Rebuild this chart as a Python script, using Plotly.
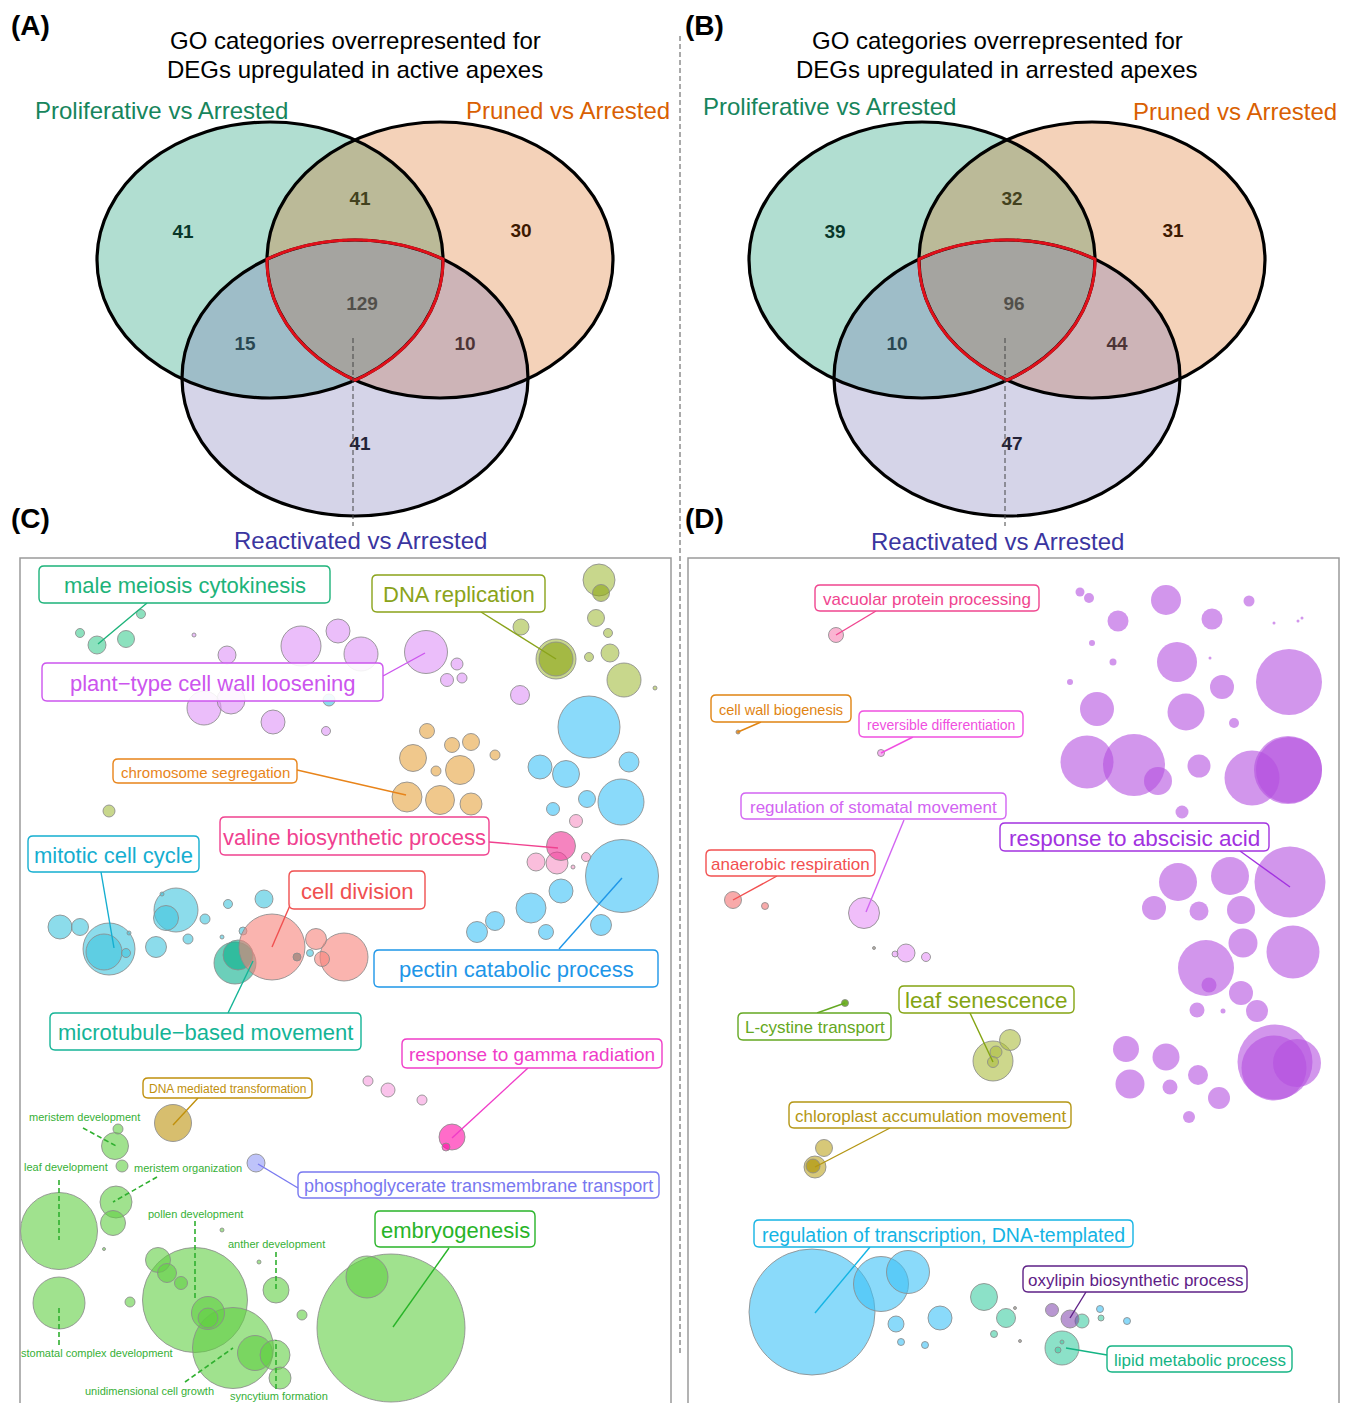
import numpy as np
import plotly.graph_objects as go

W, H = 1351, 1403
OFF = 8  # page body margin around the figure
FONT = "Liberation Sans, Arial, sans-serif"

# ---------------- Venn data ----------------
venn_sets = ["Proliferative vs Arrested", "Pruned vs Arrested", "Reactivated vs Arrested"]
venn_regions = ["P only", "P&Pr", "Pr only", "all", "P&R", "Pr&R", "R only"]
counts_A = [41, 41, 30, 129, 15, 10, 41]
counts_B = [39, 32, 31, 96, 10, 44, 47]

# ---------------- Panel C bubbles (semantic space) ----------------
c_x = [80, 97, 126, 141,
       194, 227, 301, 338, 361, 426, 457, 447, 462, 204, 231, 273, 326, 520,
       599, 601, 596, 521, 608, 556, 556, 610, 589, 624, 655, 109,
       589, 540, 566, 629, 621, 587, 553, 622, 561, 531, 495, 477, 546, 601,
       427, 452, 471, 495, 413, 436, 460, 407, 440, 471,
       576, 557, 536, 586, 573, 561,
       60, 80, 109, 104, 126, 129, 176, 166, 156, 188, 205, 228, 264, 222, 162, 243, 329, 310,
       235, 238,
       272, 316, 344, 322, 297,
       452, 446, 368, 388, 422,
       173, 256,
       118, 115, 122, 116, 113, 59, 59, 104, 130, 158, 167, 181, 195, 208, 208, 233, 255, 275,
       280, 276, 302, 222, 259, 391, 367]
c_y = [633, 645, 639, 614,
       635, 655, 646, 631, 654, 652, 664, 680, 678, 708, 700, 722, 731, 695,
       580, 593, 618, 627, 633, 659, 659, 653, 657, 680, 688, 811,
       727, 767, 774, 762, 802, 799, 809, 876, 891, 908, 921, 932, 932, 925,
       731, 745, 742, 755, 758, 771, 770, 797, 800, 804,
       821, 863, 862, 857, 867, 846,
       927, 927, 949, 952, 953, 933, 910, 918, 947, 939, 919, 904, 899, 937, 894, 931, 700, 953,
       963, 955,
       947, 939, 957, 959, 957,
       1137, 1147, 1081, 1090, 1100,
       1123, 1163,
       1129, 1146, 1166, 1202, 1223, 1231, 1303, 1249, 1302, 1260, 1273, 1283, 1300, 1313, 1318, 1348, 1353, 1355,
       1378, 1290, 1315, 1230, 1262, 1328, 1277]
c_size = [9, 18, 17, 9,
          4, 18, 40, 24, 34, 43, 12, 13, 10, 34, 28, 24, 9, 19,
          32, 17, 17, 16, 9, 40, 34, 18, 9, 34, 4, 12,
          62, 24, 27, 20, 46, 17, 13, 73, 24, 30, 19, 21, 15, 21,
          15, 15, 17, 10, 27, 10, 29, 30, 29, 22,
          13, 22, 18, 9, 4, 29,
          24, 17, 52, 36, 9, 4, 44, 25, 21, 10, 10, 9, 18, 4, 4, 8, 12, 7,
          42, 30,
          66, 21, 48, 15, 8,
          26, 8, 10, 14, 10,
          37, 18,
          10, 27, 12, 32, 25, 77, 52, 3, 10, 25, 19, 13, 105, 33, 20, 81, 35, 30,
          22, 26, 10, 4, 4, 148, 42]
c_group = (["mei"] * 4 + ["wal"] * 14 +
           ["dna", "dnad", "dna", "dna", "dna", "dna", "dnad", "dna", "dna", "dna", "dna", "dna"] +
           ["blu"] * 14 + ["chr"] * 10 + ["val"] * 5 + ["vald"] +
           ["mit"] * 18 + ["mic"] * 2 + ["div"] * 4 + ["gry"] +
           ["gam", "gam", "gaml", "gaml", "gaml"] + ["dmt", "pgt"] + ["grn"] * 25)

# ---------------- Panel D bubbles (semantic space) ----------------
d_x = [1080, 1089, 1166, 1249, 1118, 1212, 1092, 1113, 1177, 1210, 1274, 1298, 1302, 1070, 1222, 1289,
       1097, 1186, 1234, 1087, 1134, 1158, 1199, 1252, 1288, 1289, 1182, 1178, 1230, 1290, 1154, 1199,
       1241, 1243, 1293, 1206, 1209, 1241, 1197, 1223, 1257, 1126, 1166, 1130, 1170, 1198, 1219, 1189,
       1275, 1297, 1274,
       836, 738, 881, 733, 765, 864, 906, 895, 926, 874, 845,
       993, 1010, 996, 993, 824, 815, 813,
       812, 881, 908, 896, 940, 901, 925, 1127, 1100,
       984, 1006, 994, 1082, 1101, 1062, 1058, 1062,
       1052, 1070, 1015, 1020]
d_y = [592, 598, 600, 601, 621, 619, 643, 662, 662, 658, 623, 621, 618, 682, 687, 682,
       709, 712, 723, 762, 765, 781, 766, 778, 770, 770, 812, 882, 876, 882, 908, 911,
       910, 943, 952, 968, 985, 993, 1010, 1011, 1011, 1049, 1057, 1084, 1087, 1075, 1098, 1117,
       1062, 1063, 1068,
       635, 732, 753, 900, 906, 913, 953, 954, 957, 948, 1003,
       1061, 1040, 1052, 1062, 1148, 1167, 1166,
       1312, 1284, 1272, 1324, 1318, 1342, 1345, 1321, 1309,
       1297, 1318, 1334, 1321, 1318, 1348, 1350, 1342,
       1310, 1319, 1308, 1341]
d_size = [9, 10, 30, 11, 21, 21, 6, 7, 40, 3, 3, 3, 3, 6, 24, 66,
          34, 37, 10, 53, 62, 28, 23, 55, 68, 66, 13, 38, 38, 71, 24, 19,
          28, 29, 53, 56, 15, 24, 15, 5, 22, 26, 27, 29, 15, 20, 22, 12,
          75, 48, 65,
          15, 4, 7, 17, 7, 31, 18, 6, 9, 3, 7,
          40, 21, 12, 11, 17, 22, 14,
          126, 55, 43, 16, 24, 7, 7, 7, 7,
          27, 19, 7, 14, 6, 34, 6, 4,
          13, 18, 3, 3]
d_group = (["pur"] * 51 +
           ["vpk", "orn", "pkm", "sal", "sal", "vio", "vio", "vio", "vio", "gry", "lgr"] +
           ["oli"] * 4 + ["gld", "gld", "gldd"] +
           ["blu"] * 9 + ["tea"] * 8 + ["oxy", "oxy", "gry", "gry"])

# ---------------- styles ----------------
A = 0.6
GROUP_FILL = {
    "mei": (63, 205, 147, A), "wal": (222, 147, 247, A), "dna": (163, 188, 63, A),
    "dnad": (140, 165, 20, A), "blu": (60, 193, 247, A), "chr": (230, 163, 63, A),
    "val": (247, 147, 197, A), "vald": (238, 50, 148, A), "mit": (63, 197, 222, A),
    "mic": (10, 175, 140, A), "div": (247, 130, 122, A), "gry": (130, 120, 110, A),
    "gam": (255, 10, 165, A), "gaml": (247, 155, 222, A), "dmt": (188, 147, 13, A),
    "pgt": (147, 155, 247, A), "grn": (97, 207, 67, A),
    "pur": (180, 80, 223, A), "vpk": (247, 130, 180, A), "orn": (225, 130, 20, 0.85),
    "pkm": (245, 120, 235, A), "sal": (243, 113, 113, A), "vio": (230, 147, 247, A),
    "lgr": (100, 170, 20, 0.9), "oli": (172, 188, 63, A), "gld": (188, 163, 30, A),
    "gldd": (175, 150, 10, 0.7), "tea": (63, 205, 163, A), "oxy": (113, 47, 163, 0.5),
}
NO_OUTLINE = {"pur"}

fig = go.Figure()

def add_bubbles(xs, ys, ss, gs, xa, ya):
    xs, ys, ss = np.array(xs), np.array(ys), np.array(ss)
    gs = np.array(gs)
    for g in dict.fromkeys(gs):
        m = gs == g
        order = np.argsort(-ss[m])
        r, gg, b, a = GROUP_FILL[g]
        fig.add_trace(go.Scatter(
            x=xs[m][order], y=ys[m][order], mode="markers", xaxis=xa, yaxis=ya,
            marker=dict(size=ss[m][order], sizemode="diameter", opacity=1,
                        color=f"rgba({r},{gg},{b},{a})",
                        line=dict(color="rgba(140,140,140,0.85)", width=0 if g in NO_OUTLINE else 1)),
            hoverinfo="skip", showlegend=False))

add_bubbles(c_x, c_y, c_size, c_group, "x2", "y2")
add_bubbles(d_x, d_y, d_size, d_group, "x3", "y3")

# ---------------- Venn geometry (page units) ----------------
RX, RY = 173, 138
def venn_ellipses(x0):
    return [(x0 - 85, 260), (x0 + 85, 260), (x0, 378)]

venn_panels = [(355, counts_A), (1007, counts_B)]
region_offsets = [(-172, -72), (5, -105), (166, -73), (7, 0), (-110, 40), (110, 40), (5, 140)]

fills = ["rgba(27,158,119,0.34)", "rgba(217,95,2,0.28)", "rgba(117,112,179,0.30)"]
shapes = []

def triple_path(ells, c):
    pts = []
    for t in np.linspace(0, 2 * np.pi, 721):
        ct, st = np.cos(t), np.sin(t)
        rmin = 1e9
        for (ex, ey) in ells:
            px, py = c[0] - ex, c[1] - ey
            a = (ct / RX) ** 2 + (st / RY) ** 2
            b = 2 * (px * ct / RX ** 2 + py * st / RY ** 2)
            cc = (px / RX) ** 2 + (py / RY) ** 2 - 1
            r = (-b + np.sqrt(b * b - 4 * a * cc)) / (2 * a)
            rmin = min(rmin, r)
        pts.append((c[0] + rmin * ct, c[1] + rmin * st))
    return "M " + " L ".join(f"{x:.2f},{y:.2f}" for x, y in pts) + " Z"

for cx, counts in venn_panels:
    ells = venn_ellipses(cx)
    for (ex, ey), f in zip(ells, fills):
        shapes.append(dict(type="circle", xref="x", yref="y", x0=ex - RX, x1=ex + RX,
                           y0=ey - RY, y1=ey + RY, fillcolor=f, line=dict(width=0), layer="above"))
    for (ex, ey) in ells:
        shapes.append(dict(type="circle", xref="x", yref="y", x0=ex - RX, x1=ex + RX,
                           y0=ey - RY, y1=ey + RY, line=dict(color="black", width=3.2), layer="above"))
    shapes.append(dict(type="path", xref="x", yref="y", path=triple_path(ells, (cx, 310)),
                       line=dict(color="#e0101a", width=3), layer="above"))
    shapes.append(dict(type="line", xref="x", yref="y", x0=cx - 2, x1=cx - 2, y0=338, y1=526,
                       line=dict(color="#444", width=1, dash="5px,3px"), layer="above"))
    fig.add_trace(go.Scatter(
        x=[cx + dx for dx, dy in region_offsets], y=[305 + dy for dx, dy in region_offsets],
        text=[str(v) for v in counts], mode="text", xaxis="x", yaxis="y",
        textfont=dict(family=FONT, size=19, color="black", weight="bold"),
        hoverinfo="skip", showlegend=False))

# page divider
shapes.append(dict(type="line", xref="x", yref="y", x0=680, x1=680, y0=36, y1=1356,
                   line=dict(color="#555", width=1, dash="5px,3px"), layer="above"))

# panel frames
for xa, ya in (("x2", "y2"), ("x3", "y3")):
    shapes.append(dict(type="rect", xref=f"{xa} domain", yref=f"{ya} domain", x0=0, x1=1,
                       y0=-0.02, y1=1, line=dict(color="#9a9a9a", width=1.5), layer="above"))

annotations = []
def page_text(x, y, txt, size, color="black", bold=False, xanchor="center"):
    annotations.append(dict(xref="x", yref="y", x=x, y=y, text=txt, showarrow=False,
                            xanchor=xanchor, yanchor="middle",
                            font=dict(family=FONT, size=size, color=color,
                                      weight="bold" if bold else "normal")))

page_text(9, 25, "(A)", 28, bold=True, xanchor="left")
page_text(683, 25, "(B)", 28, bold=True, xanchor="left")
page_text(9, 518, "(C)", 28, bold=True, xanchor="left")
page_text(683, 518, "(D)", 28, bold=True, xanchor="left")
page_text(355, 40, "GO categories overrepresented for", 24)
page_text(355, 69, "DEGs upregulated in active apexes", 24)
page_text(997, 40, "GO categories overrepresented for", 24)
page_text(997, 69, "DEGs upregulated in arrested apexes", 24)
GREEN_T, ORANGE_T, PURPLE_T = "#17855c", "#d95f02", "#3a35a0"
page_text(161, 110, venn_sets[0], 24, GREEN_T)
page_text(672, 110, venn_sets[1], 24, ORANGE_T, xanchor="right")
page_text(360, 540, venn_sets[2], 24, PURPLE_T)
page_text(829, 106, venn_sets[0], 24, GREEN_T)
page_text(1235, 111, venn_sets[1], 24, ORANGE_T)
page_text(997, 541, venn_sets[2], 24, PURPLE_T)

# ---------------- bubble labels ----------------
def rrect(x0, x1, y0, y1, r=5):
    return (f"M {x0+r},{y0} L {x1-r},{y0} Q {x1},{y0} {x1},{y0+r} L {x1},{y1-r} "
            f"Q {x1},{y1} {x1-r},{y1} L {x0+r},{y1} Q {x0},{y1} {x0},{y1-r} "
            f"L {x0},{y0+r} Q {x0},{y0} {x0+r},{y0} Z")

boxed_C = [
    ("male meiosis cytokinesis", (39, 330, 566, 603), "#1db37a", 22, (147, 603, 98, 644)),
    ("DNA replication", (372, 545, 575, 612), "#8aa31a", 22, (481, 612, 556, 659)),
    ("plant\u2212type cell wall loosening", (42, 383, 663, 701), "#cc55ee", 22, (383, 676, 425, 653)),
    ("chromosome segregation", (113, 297, 759, 783), "#e8841a", 15, (297, 770, 406, 795)),
    ("valine biosynthetic process", (220, 489, 817, 855), "#f0418f", 22, (489, 842, 558, 848)),
    ("mitotic cell cycle", (28, 199, 836, 872), "#15aed0", 22, (101, 872, 114, 948)),
    ("cell division", (289, 425, 871, 909), "#f05050", 22, (291, 903, 272, 947)),
    ("pectin catabolic process", (374, 658, 950, 987), "#1e96e8", 22, (559, 949, 622, 878)),
    ("microtubule\u2212based movement", (50, 361, 1013, 1050), "#14b496", 22, (228, 1013, 253, 961)),
    ("response to gamma radiation", (402, 662, 1039, 1068), "#f03cc8", 19, (528, 1068, 452, 1138)),
    ("DNA mediated transformation", (143, 312, 1078, 1098), "#c0900c", 12, (198, 1098, 173, 1125)),
    ("phosphoglycerate transmembrane transport", (298, 659, 1172, 1198), "#7878f0", 18, (298, 1188, 258, 1164)),
    ("embryogenesis", (375, 535, 1211, 1247), "#28b428", 22, (449, 1248, 393, 1327)),
]
plain_C = [
    ("meristem development", (84, 1117), (83, 1128, 118, 1147)),
    ("leaf development", (66, 1167), (59, 1180, 59, 1240)),
    ("meristem organization", (188, 1168), (157, 1177, 113, 1202)),
    ("pollen development", (195, 1214), (195, 1221, 195, 1300)),
    ("anther development", (276, 1244), (276, 1252, 276, 1290)),
    ("stomatal complex development", (97, 1353), (59, 1345, 59, 1306)),
    ("unidimensional cell growth", (149, 1391), (185, 1382, 233, 1348)),
    ("syncytium formation", (279, 1396), (276, 1389, 276, 1340)),
]
boxed_D = [
    ("vacuolar protein processing", (815, 1039, 585, 611), "#f0458f", 17, (876, 611, 836, 635)),
    ("cell wall biogenesis", (711, 851, 695, 722), "#e08412", 14.5, (761, 722, 738, 732)),
    ("reversible differentiation", (859, 1023, 711, 737), "#f050e0", 14, (913, 737, 881, 753)),
    ("regulation of stomatal movement", (741, 1006, 793, 819), "#d264f2", 17, (904, 820, 866, 912)),
    ("anaerobic respiration", (706, 875, 850, 876), "#f25050", 17, (777, 876, 733, 900)),
    ("response to abscisic acid", (1000, 1269, 823, 851), "#a232e0", 22.5, (1240, 851, 1290, 887)),
    ("L-cystine transport", (738, 891, 1013, 1040), "#64a822", 17, (817, 1013, 845, 1003)),
    ("leaf senescence", (899, 1074, 986, 1013), "#84a412", 22.5, (970, 1013, 993, 1062)),
    ("chloroplast accumulation movement", (789, 1071, 1102, 1128), "#b49614", 17, (890, 1128, 815, 1167)),
    ("regulation of transcription, DNA-templated", (754, 1133, 1220, 1247), "#14b4e4", 19.5, (870, 1247, 815, 1313)),
    ("oxylipin biosynthetic process", (1023, 1247, 1266, 1292), "#5e2086", 17, (1086, 1292, 1070, 1318)),
    ("lipid metabolic process", (1107, 1292, 1346, 1372), "#14b484", 17, (1107, 1355, 1066, 1348)),
]

def add_boxed(items, xa, ya):
    for txt, (x0, x1, y0, y1), col, fs, (lx0, ly0, lx1, ly1) in items:
        shapes.append(dict(type="line", xref=xa, yref=ya, x0=lx0, y0=ly0, x1=lx1, y1=ly1,
                           line=dict(color=col, width=1.4), layer="above"))
        shapes.append(dict(type="path", xref=xa, yref=ya, path=rrect(x0, x1, y0, y1),
                           fillcolor="rgba(255,255,255,0.88)", line=dict(color=col, width=1.4),
                           layer="above"))
        annotations.append(dict(xref=xa, yref=ya, x=(x0 + x1) / 2, y=(y0 + y1) / 2 + 1, text=txt,
                                showarrow=False, xanchor="center", yanchor="middle",
                                font=dict(family=FONT, size=fs, color=col)))

add_boxed(boxed_C, "x2", "y2")
add_boxed(boxed_D, "x3", "y3")
for txt, (tx, ty), (lx0, ly0, lx1, ly1) in plain_C:
    shapes.append(dict(type="line", xref="x2", yref="y2", x0=lx0, y0=ly0, x1=lx1, y1=ly1,
                       line=dict(color="#30b030", width=1.6, dash="5px,3px"), layer="above"))
    annotations.append(dict(xref="x2", yref="y2", x=tx, y=ty, text=txt, showarrow=False,
                            xanchor="center", yanchor="middle",
                            font=dict(family=FONT, size=11, color="#36b036")))

hidden = dict(visible=False, showgrid=False, zeroline=False, fixedrange=True)
fig.update_layout(
    width=W, height=H, margin=dict(l=0, r=0, t=0, b=0),
    paper_bgcolor="white", plot_bgcolor="rgba(0,0,0,0)",
    xaxis=dict(domain=[0, 1], range=[OFF, W + OFF], **hidden),
    yaxis=dict(domain=[0, 1], range=[H + OFF, OFF], **hidden),
    xaxis2=dict(domain=[(20 - OFF) / W, (671 - OFF) / W], range=[20, 671], **hidden),
    yaxis2=dict(domain=[OFF / H, (H - 558 + OFF) / H], range=[1403, 558], **hidden),
    xaxis3=dict(domain=[(688 - OFF) / W, (1339 - OFF) / W], range=[688, 1339], **hidden),
    yaxis3=dict(domain=[OFF / H, (H - 558 + OFF) / H], range=[1403, 558], **hidden),
    shapes=shapes, annotations=annotations, showlegend=False,
    font=dict(family=FONT),
)
fig.write_html("out.html")
